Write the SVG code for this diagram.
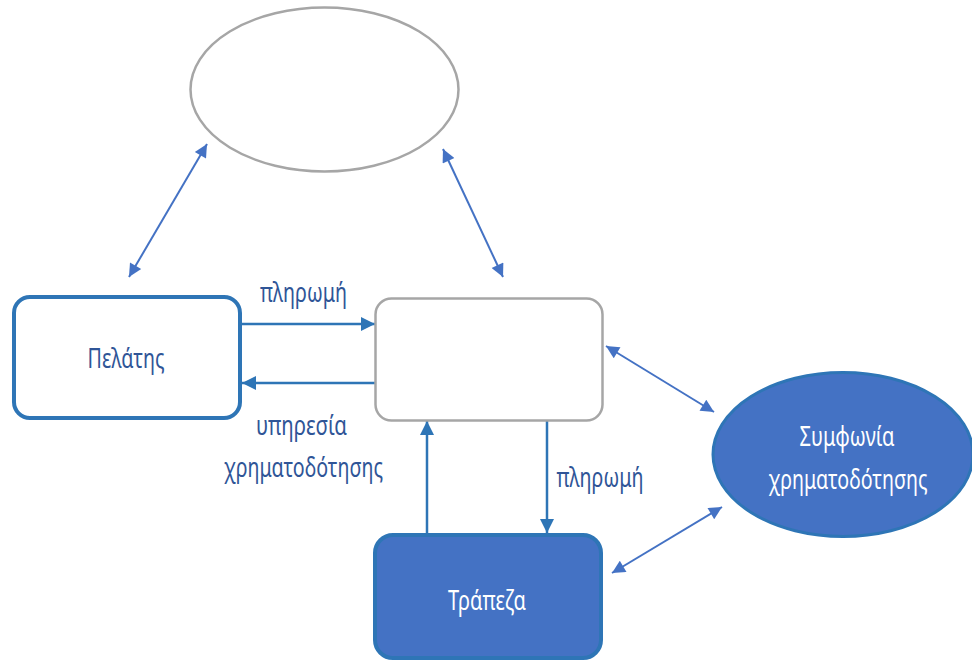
<svg xmlns="http://www.w3.org/2000/svg" width="972" height="661" viewBox="0 0 972 661">
<style>
.lbl{font-family:"Noto Sans","Open Sans","DejaVu Sans",sans-serif;font-size:28px;fill:#2f5597;text-anchor:middle}
.wht{font-family:"Noto Sans","Open Sans","DejaVu Sans",sans-serif;font-size:28px;fill:#ffffff;text-anchor:middle}
.dbl{stroke:#4472c4;stroke-width:2;fill:none;marker-start:url(#ah);marker-end:url(#ah)}
.one{stroke:#2e75b6;stroke-width:2.5;fill:none;marker-end:url(#ah2)}
</style>
<defs>
<marker id="ah" viewBox="0 0 10 10" refX="10" refY="5" markerWidth="16" markerHeight="13" markerUnits="userSpaceOnUse" orient="auto-start-reverse"><path d="M0,0 L10,5 L0,10 z" fill="#4472c4"/></marker>
<marker id="ah2" viewBox="0 0 10 10" refX="10" refY="5" markerWidth="14" markerHeight="14" markerUnits="userSpaceOnUse" orient="auto"><path d="M0,0 L10,5 L0,10 z" fill="#2e75b6"/></marker>
</defs>
<g id="connectors">
<line class="one" x1="241" y1="324" x2="375" y2="324"/>
<line class="one" x1="375" y1="383" x2="242" y2="383"/>
<line class="one" x1="427" y1="533" x2="427" y2="421"/>
<line class="one" x1="547" y1="421" x2="547" y2="533"/>
<line class="dbl" x1="129" y1="277" x2="207" y2="144"/>
<line class="dbl" x1="443" y1="149" x2="503" y2="277"/>
<line class="dbl" x1="606" y1="346" x2="714" y2="412"/>
<line class="dbl" x1="612" y1="573" x2="722" y2="507"/>
</g>
<g id="top-ellipse"><ellipse cx="324.5" cy="89.5" rx="134" ry="82" fill="#ffffff" stroke="#a6a6a6" stroke-width="2.5"/></g>
<g id="pelatis"><rect x="14" y="297" width="226" height="121" rx="16" fill="#ffffff" stroke="#2e75b6" stroke-width="4"/><text class="lbl" x="126" y="368" textLength="77" lengthAdjust="spacingAndGlyphs">Πελάτης</text></g>
<g id="middle"><rect x="375.5" y="298.5" width="227" height="122" rx="16" fill="#ffffff" stroke="#a6a6a6" stroke-width="2.5"/></g>
<g id="trapeza"><rect x="375" y="535" width="226" height="123" rx="18" fill="#4472c4" stroke="#2e75b6" stroke-width="4"/><text class="wht" x="487" y="610" textLength="78" lengthAdjust="spacingAndGlyphs">Τράπεζα</text></g>
<g id="symfonia"><ellipse cx="843" cy="454.5" rx="130" ry="82" fill="#4472c4" stroke="#2e75b6" stroke-width="3"/><text class="wht" x="847" y="446" textLength="95" lengthAdjust="spacingAndGlyphs">Συμφωνία</text><text class="wht" x="848" y="489" textLength="159" lengthAdjust="spacingAndGlyphs">χρηματοδότησης</text></g>
<g id="labels">
<text class="lbl" x="303.5" y="302" textLength="87" lengthAdjust="spacingAndGlyphs">πληρωμή</text>
<text class="lbl" x="301.5" y="435" textLength="91" lengthAdjust="spacingAndGlyphs">υπηρεσία</text>
<text class="lbl" x="303.5" y="477" textLength="159" lengthAdjust="spacingAndGlyphs">χρηματοδότησης</text>
<text class="lbl" x="600" y="487" textLength="87" lengthAdjust="spacingAndGlyphs">πληρωμή</text>
</g>
</svg>
